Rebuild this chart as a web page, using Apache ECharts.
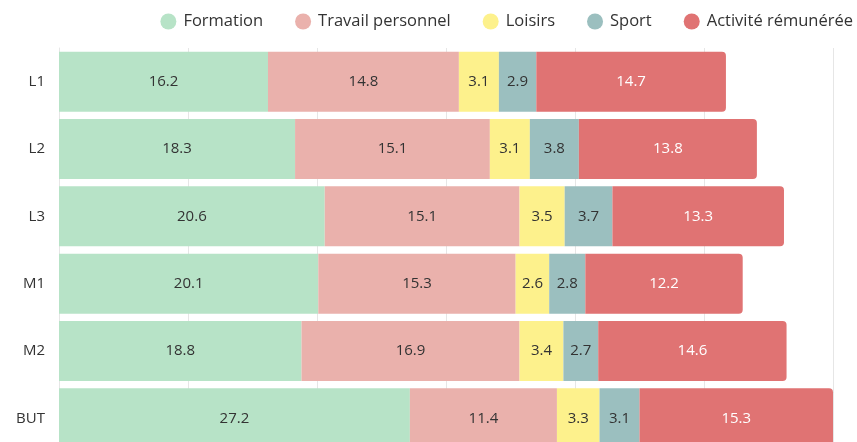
<!DOCTYPE html>
<html>
<head>
<meta charset="utf-8">
<script src="https://cdn.jsdelivr.net/npm/echarts@6/dist/echarts.min.js"></script>
<style>
  html, body { margin: 0; padding: 0; background: #fff; }
  #chart { width: 857px; height: 442px; }
</style>
</head>
<body>
<div id="chart"></div>
<script>
// categories, top to bottom
const levels = ['L1', 'L2', 'L3', 'M1', 'M2', 'BUT']

// hours per week by activity
const formation = [16.2, 18.3, 20.6, 20.1, 18.8, 27.2]
const travailPersonnel = [14.8, 15.1, 15.1, 15.3, 16.9, 11.4]
const loisirs = [3.1, 3.1, 3.5, 2.6, 3.4, 3.3]
const sport = [2.9, 3.8, 3.7, 2.8, 2.7, 3.1]
const activiteRemuneree = [14.7, 13.8, 13.3, 12.2, 14.6, 15.3]

const seriesDefs = [
  { name: 'Formation', data: formation, color: '#b7e3c7', text: '#333' },
  { name: 'Travail personnel', data: travailPersonnel, color: '#eab1ac', text: '#333' },
  { name: 'Loisirs', data: loisirs, color: '#fdf18c', text: '#333' },
  { name: 'Sport', data: sport, color: '#9bbfbf', text: '#333' },
  { name: 'Activité rémunérée', data: activiteRemuneree, color: '#e07373', text: '#fff' },
]

const chart = echarts.init(document.getElementById('chart'), null, { renderer: 'canvas' })

chart.setOption({
  animation: false,
  textStyle: { fontFamily: 'Open Sans' },
  legend: {
    top: 13,
    right: 4,
    padding: 0,
    icon: 'circle',
    itemWidth: 16,
    itemHeight: 16,
    itemGap: 32,
    textStyle: { color: '#333', fontSize: 16.5, fontFamily: 'Open Sans', padding: [0, 0, 0, 2] },
  },
  // the plot runs past the bottom edge, as in the cropped original
  grid: { left: 59, right: 24, top: 48, bottom: -10, outerBoundsMode: 'none' },
  xAxis: {
    type: 'value',
    min: 0,
    max: 60,
    interval: 10,
    axisLabel: { show: false },
    axisLine: { show: false },
    axisTick: { show: false },
    splitLine: { lineStyle: { color: '#e6e6e6' } },
  },
  yAxis: {
    type: 'category',
    inverse: true,
    data: levels,
    axisLine: { show: true, lineStyle: { color: '#e6e6e6' } },
    axisTick: { show: false },
    axisLabel: { color: '#333', fontSize: 15, margin: 14, fontFamily: 'Open Sans' },
  },
  series: seriesDefs.map((s, i) => ({
    name: s.name,
    type: 'bar',
    stack: 'total',
    barCategoryGap: '11%',
    data: s.data,
    itemStyle: {
      color: s.color,
      borderRadius: i === seriesDefs.length - 1 ? [0, 4, 4, 0] : 0,
    },
    label: {
      show: true,
      position: 'inside',
      color: s.text,
      fontSize: 15,
      fontFamily: 'Open Sans',
    },
  })),
})
</script>
</body>
</html>
